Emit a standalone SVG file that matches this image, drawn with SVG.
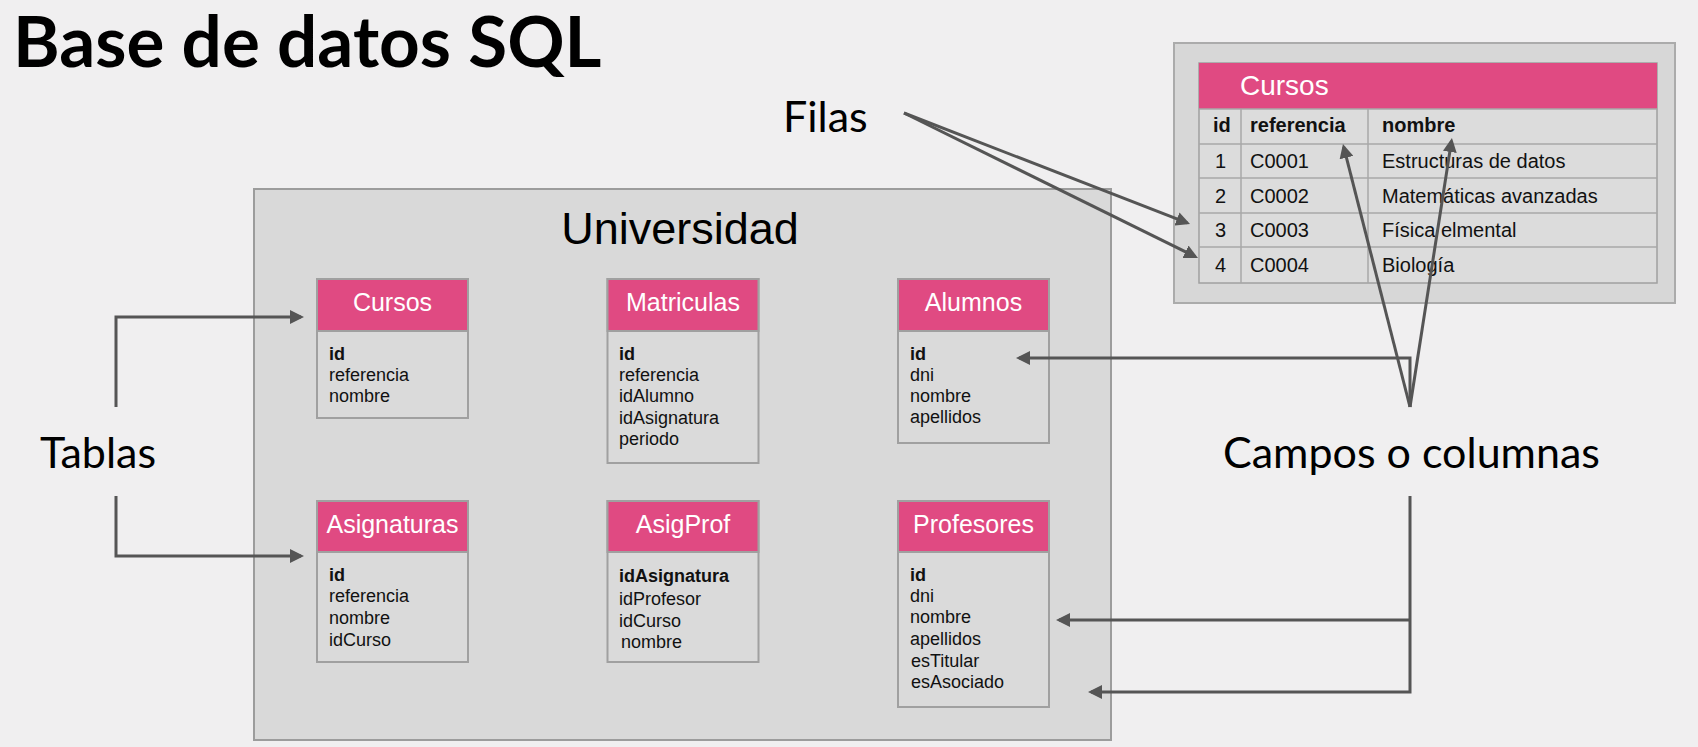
<svg xmlns="http://www.w3.org/2000/svg" width="1698" height="747" viewBox="0 0 1698 747">
  <style>
    .bg { fill: #f0eff0; }
    .panel { fill: #d9d9d9; stroke: #9c9c9c; stroke-width: 2; }
    .tbody { fill: #dadada; stroke: #a0a0a0; stroke-width: 2; }
    .thead { fill: #e04a82; stroke: #a0a0a0; stroke-width: 2; }
    .grid { stroke: #a8a8a8; stroke-width: 1.5; fill: none; }
    .label { font-family: Lato, "Liberation Sans", sans-serif; font-size: 43px; fill: #000; }
    .title { font-family: Lato, "Liberation Sans", sans-serif; font-size: 71px; font-weight: bold; fill: #000; }
    .htxt { font-family: "Liberation Sans", Arial, sans-serif; font-size: 25px; fill: #fff; text-anchor: middle; }
    .ftxt { font-family: "Liberation Sans", Arial, sans-serif; font-size: 18px; fill: #111; }
    .b { font-weight: bold; }
    .ctxt { font-family: "Liberation Sans", Arial, sans-serif; font-size: 20px; fill: #111; }
    .chead { font-family: "Liberation Sans", Arial, sans-serif; font-size: 28px; fill: #fff; }
    .conn { stroke: #555; stroke-width: 3; fill: none; }
  </style>
  <defs>
    <marker id="ah" viewBox="0 0 14 14" refX="11" refY="7" markerWidth="14" markerHeight="14" markerUnits="userSpaceOnUse" orient="auto">
      <path d="M0 0 L14 7 L0 14 Z" fill="#555"/>
    </marker>
  </defs>

  <rect class="bg" x="0" y="0" width="1698" height="747"/>

  <text class="title" x="13" y="67">Base de datos SQL</text>

  <!-- Database container -->
  <g id="universidad">
    <rect class="panel" x="254" y="189" width="857" height="551"/>
    <text x="680" y="244" font-family="'Liberation Sans', Arial, sans-serif" font-size="45" text-anchor="middle" fill="#000">Universidad</text>
  </g>

  <g id="tabla-cursos">
    <rect class="tbody" x="317" y="279" width="151" height="139"/>
    <rect class="thead" x="317" y="279" width="151" height="52"/>
    <text class="htxt" x="392.5" y="311">Cursos</text>
    <text class="ftxt" x="329" y="360"><tspan class="b">id</tspan><tspan x="329" y="381">referencia</tspan><tspan x="329" y="402">nombre</tspan></text>
  </g>

  <g id="tabla-matriculas">
    <rect class="tbody" x="607.5" y="279" width="151" height="184"/>
    <rect class="thead" x="607.5" y="279" width="151" height="52"/>
    <text class="htxt" x="683" y="311">Matriculas</text>
    <text class="ftxt" x="619" y="360"><tspan class="b">id</tspan><tspan x="619" y="381">referencia</tspan><tspan x="619" y="402">idAlumno</tspan><tspan x="619" y="423.5">idAsignatura</tspan><tspan x="619" y="445">periodo</tspan></text>
  </g>

  <g id="tabla-alumnos">
    <rect class="tbody" x="898" y="279" width="151" height="164"/>
    <rect class="thead" x="898" y="279" width="151" height="52"/>
    <text class="htxt" x="973.5" y="311">Alumnos</text>
    <text class="ftxt" x="910" y="360"><tspan class="b">id</tspan><tspan x="910" y="381">dni</tspan><tspan x="910" y="402">nombre</tspan><tspan x="910" y="423">apellidos</tspan></text>
  </g>

  <g id="tabla-asignaturas">
    <rect class="tbody" x="317" y="501" width="151" height="161"/>
    <rect class="thead" x="317" y="501" width="151" height="51"/>
    <text class="htxt" x="392.5" y="533">Asignaturas</text>
    <text class="ftxt" x="329" y="581"><tspan class="b">id</tspan><tspan x="329" y="602">referencia</tspan><tspan x="329" y="624">nombre</tspan><tspan x="329" y="646">idCurso</tspan></text>
  </g>

  <g id="tabla-asigprof">
    <rect class="tbody" x="607.5" y="501" width="151" height="161"/>
    <rect class="thead" x="607.5" y="501" width="151" height="51"/>
    <text class="htxt" x="683" y="533">AsigProf</text>
    <text class="ftxt" x="619" y="582"><tspan class="b">idAsignatura</tspan><tspan x="619" y="605">idProfesor</tspan><tspan x="619" y="627">idCurso</tspan><tspan x="621" y="648">nombre</tspan></text>
  </g>

  <g id="tabla-profesores">
    <rect class="tbody" x="898" y="501" width="151" height="206"/>
    <rect class="thead" x="898" y="501" width="151" height="51"/>
    <text class="htxt" x="973.5" y="533">Profesores</text>
    <text class="ftxt" x="910" y="581"><tspan class="b">id</tspan><tspan x="910" y="602">dni</tspan><tspan x="910" y="623">nombre</tspan><tspan x="910" y="645">apellidos</tspan><tspan x="911" y="667">esTitular</tspan><tspan x="911" y="688">esAsociado</tspan></text>
  </g>

  <!-- Sample rows of the Cursos table -->
  <g id="ejemplo-cursos">
    <rect x="1174" y="43" width="501" height="260" fill="#d7d7d7" stroke="#ababab" stroke-width="2"/>
    <rect x="1199" y="63" width="458" height="220" fill="#dcdcdc" stroke="#a0a0a0" stroke-width="1.5"/>
    <rect x="1199" y="63" width="458" height="46" fill="#e04a82"/>
    <path class="grid" d="M1199 109 H1657 M1199 144 H1657 M1199 178 H1657 M1199 213 H1657 M1199 247 H1657 M1241 109 V283 M1368 109 V283"/>
    <text class="chead" x="1240" y="95">Cursos</text>
    <text class="ctxt b" x="1213" y="132">id</text>
    <text class="ctxt b" x="1250" y="132">referencia</text>
    <text class="ctxt b" x="1382" y="132">nombre</text>
    <text class="ctxt" x="1215" y="168">1</text>
    <text class="ctxt" x="1250" y="168">C0001</text>
    <text class="ctxt" x="1382" y="168">Estructuras de datos</text>
    <text class="ctxt" x="1215" y="203">2</text>
    <text class="ctxt" x="1250" y="203">C0002</text>
    <text class="ctxt" x="1382" y="203">Matemáticas avanzadas</text>
    <text class="ctxt" x="1215" y="237">3</text>
    <text class="ctxt" x="1250" y="237">C0003</text>
    <text class="ctxt" x="1382" y="237">Física elmental</text>
    <text class="ctxt" x="1215" y="272">4</text>
    <text class="ctxt" x="1250" y="272">C0004</text>
    <text class="ctxt" x="1382" y="272">Biología</text>
  </g>

  <g id="etiqueta-filas"><text class="label" x="783" y="132">Filas</text></g>
  <g id="etiqueta-tablas"><text class="label" x="40" y="468">Tablas</text></g>
  <g id="etiqueta-campos"><text class="label" x="1223" y="468">Campos o columnas</text></g>

  <g id="conectores">
    <!-- Tablas -->
    <path class="conn" d="M116 407 V317 H301" marker-end="url(#ah)"/>
    <path class="conn" d="M116 496 V556 H301" marker-end="url(#ah)"/>
    <!-- Filas -->
    <path class="conn" d="M904 113 L1187.2 222.9" marker-end="url(#ah)"/>
    <path class="conn" d="M904 113 L1195.3 256.7" marker-end="url(#ah)"/>
    <!-- Campos o columnas, upper -->
    <path class="conn" d="M1410 407 L1343.7 146.9" marker-end="url(#ah)"/>
    <path class="conn" d="M1410 407 L1451.5 141" marker-end="url(#ah)"/>
    <path class="conn" d="M1410 407 V358 H1019" marker-end="url(#ah)"/>
    <!-- Campos o columnas, lower -->
    <path class="conn" d="M1410 496 V692 H1091" marker-end="url(#ah)"/>
    <path class="conn" d="M1410 620 H1059" marker-end="url(#ah)"/>
  </g>
</svg>
